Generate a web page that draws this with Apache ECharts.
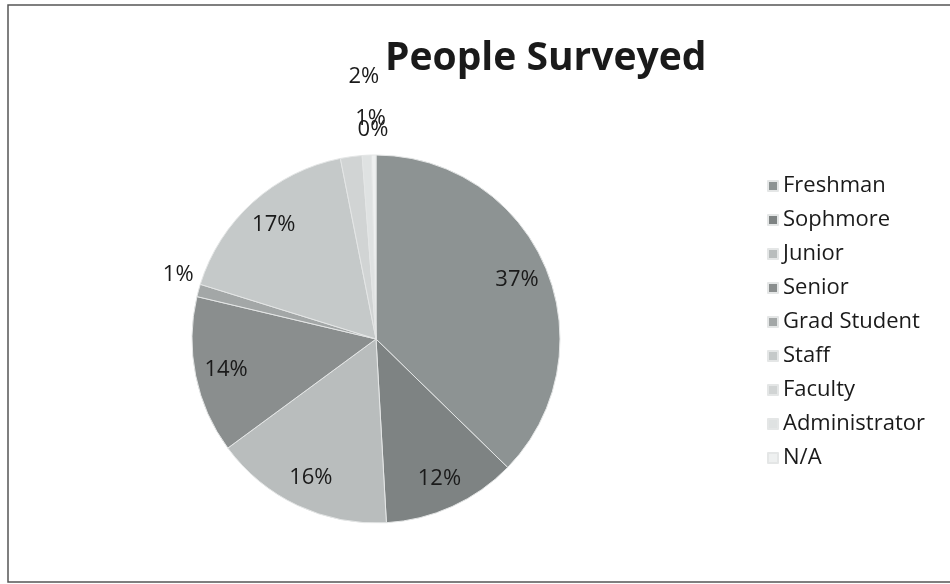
<!DOCTYPE html>
<html>
<head>
<meta charset="utf-8">
<script src="https://cdn.jsdelivr.net/npm/echarts@6/dist/echarts.min.js"></script>
<style>
  html, body { margin: 0; padding: 0; background: #fff; }
  #main { width: 950px; height: 584px; }
</style>
</head>
<body>
<div id="main"></div>
<script>
// survey groups, clockwise from 12 o'clock
var groups = ['Freshman', 'Sophmore', 'Junior', 'Senior', 'Grad Student', 'Staff', 'Faculty', 'Administrator', 'N/A']
var shares = [37.3, 11.8, 15.8, 13.8, 1.1, 17.1, 1.9, 0.8, 0.4]
var colors = ['#8d9393', '#7e8383', '#b9bdbd', '#8a8e8e', '#a3a7a7', '#c5c9c9', '#d1d4d4', '#dfe2e2', '#eef0f0']

// small slices get their label outside the pie
var outside = {
  'Grad Student': { length: 58, length2: -56 },
  'Faculty': { length: 81, length2: -44 },
  'Administrator': { length: 37, length2: -26 },
  'N/A': { length: 25, length2: -20 }
}

var chartDom = document.getElementById('main')
var myChart = echarts.init(chartDom)

var fmt = function (p) { return Math.round(p.percent) + '%' }

var pieData = groups.map(function (g, i) {
  return { name: g, value: shares[i], itemStyle: { color: colors[i] } }
})

var labelData = groups.map(function (g, i) {
  var item = { name: g, value: shares[i] }
  if (outside[g]) {
    item.label = { position: 'outside' }
    item.labelLine = { show: false, length: outside[g].length, length2: outside[g].length2 }
  } else {
    item.label = { position: 'inside' }
  }
  return item
})

var option = {
  backgroundColor: '#fff',
  animation: false,
  title: {
    text: 'People Surveyed',
    left: 380,
    top: 34,
    textStyle: { fontFamily: 'Open Sans', fontSize: 39, fontWeight: 'bold', color: '#1a1a1a' }
  },
  legend: {
    orient: 'vertical',
    left: 762,
    top: 170,
    itemWidth: 10,
    itemHeight: 10,
    itemGap: 12,
    icon: 'rect',
    data: groups,
    textStyle: { fontFamily: 'Open Sans', fontSize: 22, color: '#1a1a1a' }
  },
  graphic: [{
    type: 'rect',
    shape: { x: 8, y: 5, width: 945, height: 577 },
    style: { fill: 'none', stroke: '#555', lineWidth: 1.5 },
    silent: true
  }],
  series: [
    {
      name: 'People Surveyed',
      type: 'pie',
      center: [376, 339],
      radius: [0, 184],
      startAngle: 90,
      clockwise: true,
      label: { show: false },
      labelLine: { show: false },
      itemStyle: { borderColor: '#e4e6e6', borderWidth: 1 },
      emphasis: { disabled: true },
      data: pieData
    },
    {
      name: 'labels',
      type: 'pie',
      center: [376, 339],
      radius: [116, 184],
      startAngle: 90,
      clockwise: true,
      silent: true,
      avoidLabelOverlap: false,
      labelLayout: { hideOverlap: false },
      minShowLabelAngle: 0,
      itemStyle: { color: 'rgba(0,0,0,0)' },
      label: {
        show: true,
        formatter: fmt,
        fontFamily: 'Open Sans',
        fontSize: 22,
        color: '#1a1a1a'
      },
      labelLine: { show: false },
      emphasis: { disabled: true },
      data: labelData
    }
  ]
}

myChart.setOption(option)
</script>
</body>
</html>
